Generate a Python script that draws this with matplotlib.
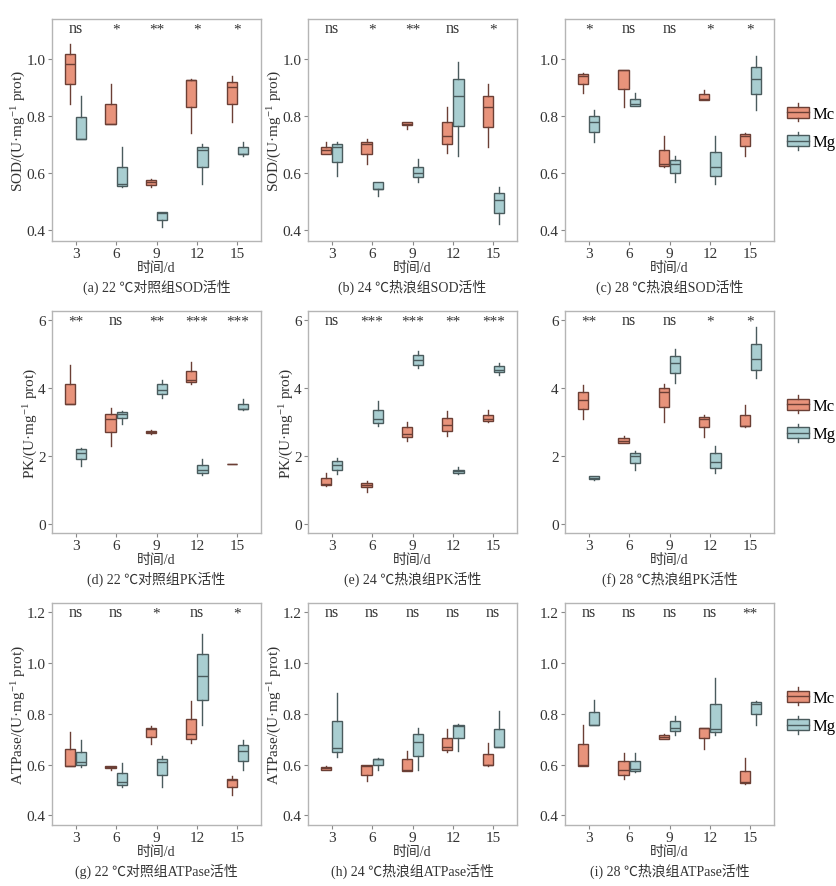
import numpy as np
import matplotlib
matplotlib.use('Agg')
import matplotlib.pyplot as plt
from matplotlib.legend_handler import HandlerBase
from matplotlib.patches import Rectangle, Patch
from matplotlib.lines import Line2D

plt.rcParams['font.family'] = ['Liberation Serif', 'Noto Sans CJK SC', 'DejaVu Sans']
plt.rcParams['mathtext.fontset'] = 'custom'
plt.rcParams['mathtext.rm'] = 'Liberation Serif'
plt.rcParams['mathtext.it'] = 'Liberation Serif:italic'

days = ['3', '6', '9', '12', '15']
groups = ['Mc', 'Mg']

# box stats per day: [whisker low, q1, median, q3, whisker high]
sod_22_mc = [[0.84, 0.91, 0.98, 1.015, 1.05], [0.77, 0.77, 0.77, 0.84, 0.91], [0.55, 0.557, 0.567, 0.575, 0.58],
             [0.74, 0.83, 0.925, 0.927, 0.93], [0.78, 0.84, 0.90, 0.92, 0.94]]
sod_22_mg = [[0.72, 0.72, 0.72, 0.795, 0.87], [0.55, 0.555, 0.56, 0.62, 0.69], [0.41, 0.435, 0.46, 0.462, 0.465],
             [0.56, 0.62, 0.68, 0.69, 0.70], [0.66, 0.665, 0.665, 0.69, 0.71]]
sod_24_mc = [[0.665, 0.668, 0.68, 0.69, 0.71], [0.63, 0.665, 0.70, 0.71, 0.72], [0.755, 0.768, 0.77, 0.78, 0.78],
             [0.67, 0.70, 0.73, 0.78, 0.83], [0.69, 0.76, 0.83, 0.87, 0.91]]
sod_24_mg = [[0.59, 0.64, 0.69, 0.70, 0.71], [0.52, 0.545, 0.545, 0.57, 0.57], [0.57, 0.585, 0.60, 0.62, 0.65],
             [0.66, 0.765, 0.87, 0.93, 0.99], [0.42, 0.46, 0.505, 0.53, 0.55]]
sod_28_mc = [[0.88, 0.91, 0.94, 0.945, 0.95], [0.83, 0.895, 0.96, 0.96, 0.96], [0.62, 0.625, 0.63, 0.68, 0.73],
             [0.855, 0.855, 0.86, 0.875, 0.89], [0.66, 0.695, 0.73, 0.735, 0.74]]
sod_28_mg = [[0.71, 0.745, 0.78, 0.80, 0.82], [0.835, 0.835, 0.84, 0.86, 0.88], [0.57, 0.60, 0.63, 0.645, 0.66],
             [0.56, 0.59, 0.62, 0.675, 0.73], [0.82, 0.875, 0.93, 0.97, 1.01]]

pk_22_mc = [[3.55, 3.55, 3.55, 4.12, 4.68], [2.3, 2.7, 3.1, 3.25, 3.42], [2.65, 2.68, 2.72, 2.75, 2.78],
            [4.12, 4.18, 4.25, 4.5, 4.78], [1.78, 1.78, 1.78, 1.78, 1.78]]
pk_22_mg = [[1.7, 1.9, 2.1, 2.2, 2.25], [2.95, 3.12, 3.25, 3.3, 3.32], [3.72, 3.82, 3.95, 4.12, 4.25],
            [1.45, 1.5, 1.6, 1.75, 1.9], [3.35, 3.38, 3.4, 3.55, 3.68]]
pk_24_mc = [[1.12, 1.16, 1.18, 1.36, 1.5], [0.95, 1.08, 1.15, 1.2, 1.25], [2.45, 2.55, 2.65, 2.85, 3.0],
            [2.6, 2.75, 2.92, 3.12, 3.32], [3.0, 3.02, 3.1, 3.2, 3.35]]
pk_24_mg = [[1.48, 1.58, 1.75, 1.85, 1.95], [2.9, 2.98, 3.1, 3.35, 3.62], [4.6, 4.7, 4.82, 4.98, 5.1],
            [1.48, 1.5, 1.55, 1.6, 1.68], [4.4, 4.48, 4.55, 4.65, 4.75]]
pk_28_mc = [[3.1, 3.4, 3.65, 3.88, 4.1], [2.38, 2.4, 2.45, 2.52, 2.6], [3.0, 3.45, 3.9, 4.0, 4.12],
            [2.55, 2.85, 3.1, 3.15, 3.2], [2.85, 2.9, 2.9, 3.22, 3.52]]
pk_28_mg = [[1.28, 1.32, 1.36, 1.4, 1.42], [1.6, 1.8, 2.0, 2.1, 2.15], [4.15, 4.45, 4.75, 4.95, 5.15],
            [1.5, 1.65, 1.82, 2.08, 2.3], [4.3, 4.55, 4.85, 5.3, 5.8]]

atp_22_mc = [[0.595, 0.595, 0.595, 0.66, 0.73], [0.58, 0.585, 0.59, 0.595, 0.595], [0.68, 0.708, 0.74, 0.742, 0.75],
             [0.685, 0.70, 0.72, 0.78, 0.85], [0.48, 0.51, 0.54, 0.545, 0.555]]
atp_22_mg = [[0.59, 0.598, 0.61, 0.65, 0.695], [0.51, 0.52, 0.53, 0.565, 0.605], [0.51, 0.56, 0.61, 0.622, 0.635],
             [0.755, 0.855, 0.95, 1.035, 1.115], [0.58, 0.615, 0.652, 0.675, 0.695]]
atp_24_mc = [[0.58, 0.58, 0.585, 0.59, 0.595], [0.535, 0.56, 0.595, 0.598, 0.60], [0.575, 0.575, 0.58, 0.62, 0.655],
             [0.65, 0.658, 0.668, 0.705, 0.74], [0.595, 0.597, 0.60, 0.64, 0.685]]
atp_24_mg = [[0.63, 0.648, 0.665, 0.77, 0.88], [0.578, 0.597, 0.62, 0.622, 0.625], [0.58, 0.635, 0.69, 0.722, 0.745],
             [0.655, 0.703, 0.75, 0.755, 0.76], [0.668, 0.668, 0.668, 0.74, 0.812]]
atp_28_mc = [[0.595, 0.595, 0.60, 0.68, 0.755], [0.545, 0.56, 0.58, 0.612, 0.645], [0.70, 0.70, 0.708, 0.715, 0.72],
             [0.66, 0.705, 0.742, 0.742, 0.742], [0.525, 0.528, 0.53, 0.575, 0.625]]
atp_28_mg = [[0.755, 0.755, 0.755, 0.805, 0.855], [0.57, 0.575, 0.582, 0.612, 0.645], [0.718, 0.732, 0.745, 0.77, 0.79],
             [0.715, 0.728, 0.74, 0.84, 0.94], [0.755, 0.80, 0.84, 0.845, 0.85]]

sig_sod_22 = ['ns', '*', '**', '*', '*']
sig_sod_24 = ['ns', '*', '**', 'ns', '*']
sig_sod_28 = ['*', 'ns', 'ns', '*', '*']
sig_pk_22 = ['**', 'ns', '**', '***', '***']
sig_pk_24 = ['ns', '***', '***', '**', '***']
sig_pk_28 = ['**', 'ns', 'ns', '*', '*']
sig_atp_22 = ['ns', 'ns', '*', 'ns', '*']
sig_atp_24 = ['ns', 'ns', 'ns', 'ns', 'ns']
sig_atp_28 = ['ns', 'ns', 'ns', 'ns', '**']

captions = [['(a) 22 ℃对照组SOD活性', '(b) 24 ℃热浪组SOD活性', '(c) 28 ℃热浪组SOD活性'],
            ['(d) 22 ℃对照组PK活性', '(e) 24 ℃热浪组PK活性', '(f) 28 ℃热浪组PK活性'],
            ['(g) 22 ℃对照组ATPase活性', '(h) 24 ℃热浪组ATPase活性', '(i) 28 ℃热浪组ATPase活性']]
ylabels = [r'SOD/(U·mg$^{-1}$ prot)', r'PK/(U·mg$^{-1}$ prot)', r'ATPase/(U·mg$^{-1}$ prot)']
yticks = [[0.4, 0.6, 0.8, 1.0], [0, 2, 4, 6], [0.4, 0.6, 0.8, 1.0, 1.2]]
ylims = [(0.362, 1.139), (-0.27, 6.28), (0.362, 1.236)]
ytick_fmt = ['%.1f', '%d', '%.1f']

panels = [[(sod_22_mc, sod_22_mg, sig_sod_22), (sod_24_mc, sod_24_mg, sig_sod_24), (sod_28_mc, sod_28_mg, sig_sod_28)],
          [(pk_22_mc, pk_22_mg, sig_pk_22), (pk_24_mc, pk_24_mg, sig_pk_24), (pk_28_mc, pk_28_mg, sig_pk_28)],
          [(atp_22_mc, atp_22_mg, sig_atp_22), (atp_24_mc, atp_24_mg, sig_atp_24), (atp_28_mc, atp_28_mg, sig_atp_28)]]

c_mc = '#E8937B'
c_mg = '#A9CED1'
e_mc = '#6b3f35'
e_mg = '#4a5b5d'
spine_c = '#b5b5b5'
txt_c = '#333333'


class BoxHandler(HandlerBase):
    def create_artists(self, legend, orig_handle, xdescent, ydescent, width, height, fontsize, trans):
        fc = orig_handle.get_facecolor()
        ec = orig_handle.get_edgecolor()
        x0, y0 = -xdescent, -ydescent
        rect = Rectangle((x0, y0 + 0.1 * height), width, 0.8 * height, facecolor=fc, edgecolor=ec, lw=1.0,
                         transform=trans)
        med = Line2D([x0, x0 + width], [y0 + 0.5 * height] * 2, color=ec, lw=1.0, transform=trans)
        w1 = Line2D([x0 + width / 2] * 2, [y0 + 0.9 * height, y0 + 1.15 * height], color=ec, lw=1.0, transform=trans)
        w2 = Line2D([x0 + width / 2] * 2, [y0 - 0.15 * height, y0 + 0.1 * height], color=ec, lw=1.0, transform=trans)
        return [rect, med, w1, w2]


W, H = 836, 887
fig = plt.figure(figsize=(W / 100, H / 100), dpi=100)
col_left = [52, 308, 565]
row_top = [20, 312, 604]
aw, ah = 209, 222
fs = 11
fs_cjk = 10

pos = np.arange(len(days))
for r in range(3):
    for c in range(3):
        ax = fig.add_axes([col_left[c] / W, 1 - (row_top[r] + ah) / H, aw / W, ah / H])
        mc, mg, sig = panels[r][c]
        for data, off, fc, ec in [(mc, -0.14, c_mc, e_mc), (mg, 0.14, c_mg, e_mg)]:
            stats = [dict(whislo=d[0], q1=d[1], med=d[2], q3=d[3], whishi=d[4], fliers=[]) for d in data]
            ax.bxp(stats, positions=pos + off, widths=0.25, patch_artist=True, showcaps=False,
                   boxprops=dict(facecolor=fc, edgecolor=ec, lw=1.0),
                   medianprops=dict(color=ec, lw=1.0),
                   whiskerprops=dict(color=ec, lw=1.0), manage_ticks=False)
        for i, s in enumerate(sig):
            if s == 'ns':
                ax.text(pos[i], 0.96, s, transform=ax.get_xaxis_transform(), ha='center', va='center',
                        fontsize=11.5, color=txt_c)
            else:
                ax.text(pos[i], 0.955, s, transform=ax.get_xaxis_transform(), ha='center',
                        va='center', fontsize=11, color=txt_c)
        ax.set_xlim(-0.59, 4.59)
        ax.set_ylim(*ylims[r])
        ax.set_xticks(pos)
        ax.set_xticklabels(days)
        ax.set_yticks(yticks[r])
        ax.set_yticklabels([ytick_fmt[r] % v for v in yticks[r]])
        ax.tick_params(axis='both', labelsize=fs, colors='#888888', labelcolor=txt_c, length=3, width=0.8, pad=1.5)
        for sp in ax.spines.values():
            sp.set_color(spine_c)
            sp.set_linewidth(1.0)
        ax.text(0.5, -0.12, '时间/d', transform=ax.transAxes, ha='center', va='center', fontsize=fs_cjk,
                color=txt_c)
        if c < 2:
            ax.set_ylabel(ylabels[r], fontsize=fs, color=txt_c, labelpad=-1)
        ax.text(0.5, -0.205, captions[r][c], transform=ax.transAxes, ha='center', va='center', fontsize=fs_cjk,
                color=txt_c)
        if c == 2:
            handles = [Patch(facecolor=c_mc, edgecolor=e_mc), Patch(facecolor=c_mg, edgecolor=e_mg)]
            ax.legend(handles, groups, loc='center left', bbox_to_anchor=(0.99, 0.51), frameon=False,
                      handler_map={Patch: BoxHandler()}, handlelength=1.3, handleheight=0.9,
                      handletextpad=0.25, labelspacing=0.7, fontsize=12)

fig.savefig('out.png', dpi=100)
